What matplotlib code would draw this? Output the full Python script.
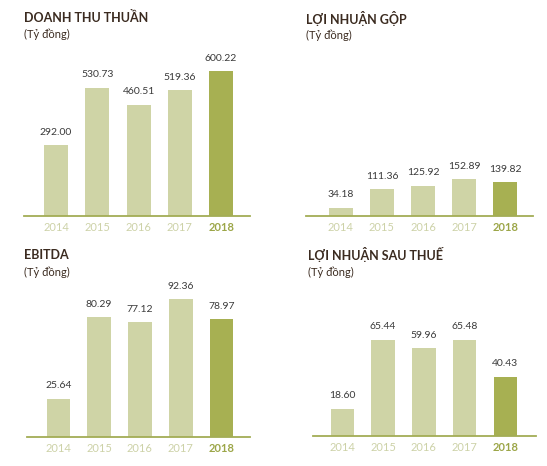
import matplotlib.pyplot as plt

years = ["2014", "2015", "2016", "2017", "2018"]
doanh_thu = [292.00, 530.73, 460.51, 519.36, 600.22]
loi_nhuan_gop = [34.18, 111.36, 125.92, 152.89, 139.82]
ebitda = [25.64, 80.29, 77.12, 92.36, 78.97]
loi_nhuan_sau_thue = [18.60, 65.44, 59.96, 65.48, 40.43]

titles = ["DOANH THU THUẦN", "LỢI NHUẬN GỘP", "EBITDA", "LỢI NHUẬN SAU THUẾ"]
subtitle = "(Tỷ đồng)"

W, H = 547, 466
LIGHT = "#CFD4A6"
DARK = "#A7B052"
AXIS = "#A3AD55"
YEAR_LIGHT = "#CDD2A8"
YEAR_DARK = "#9CA648"
TITLE_C = "#3B2B20"
VAL_C = "#3A3A3A"

plt.rcParams['font.family'] = ['Lato', 'DejaVu Sans']

fig = plt.figure(figsize=(W / 100, H / 100), dpi=100)
fig.patch.set_facecolor("white")

# (data, title, title_x, title_y, axis_left, axis_right, baseline, xlim, px_per_unit)
panels = [
    (doanh_thu, titles[0], 24, 17, 24, 250, 216, (-0.776, 4.70), 0.2417),
    (loi_nhuan_gop, titles[1], 306, 18, 306, 533, 216, (-0.85, 4.68), 0.2417),
    (ebitda, titles[2], 24, 255, 27, 250, 437, (-0.77, 4.70), 1.49),
    (loi_nhuan_sau_thue, titles[3], 308, 255, 313, 536, 436, (-0.72, 4.75), 1.47),
]

for vals, title, tx, ty, left, right, base, xlim, scale in panels:
    top = base - 160
    ax = fig.add_axes([left / W, (H - base) / H, (right - left) / W, (base - top) / H])
    ax.set_xlim(*xlim)
    ax.set_ylim(0, (base - top) / scale)
    colors = [LIGHT] * 4 + [DARK]
    x = range(len(years))
    ax.bar(x, vals, width=0.58, color=colors, zorder=2)
    for xi, v in zip(x, vals):
        ax.annotate(f"{v:.2f}", (xi, v), xytext=(0, 6), textcoords="offset points",
                    ha="center", va="bottom", fontsize=7.5, color=VAL_C)
    for s in ["top", "right", "left"]:
        ax.spines[s].set_visible(False)
    ax.spines["bottom"].set_color(AXIS)
    ax.spines["bottom"].set_linewidth(1.3)
    ax.set_yticks([])
    ax.set_xticks(list(x))
    ax.set_xticklabels(years, fontsize=8)
    ax.tick_params(axis="x", length=0, pad=4)
    for i, lab in enumerate(ax.get_xticklabels()):
        if i == 4:
            lab.set_color(YEAR_DARK)
            lab.set_fontweight("bold")
        else:
            lab.set_color(YEAR_LIGHT)
    ax.patch.set_alpha(0)

    fig.text(tx / W, 1 - ty / H, title, fontsize=9, fontweight="bold",
             color=TITLE_C, ha="left", va="center")
    fig.text(tx / W, 1 - (ty + 17) / H, subtitle, fontsize=8,
             color=TITLE_C, ha="left", va="center")

fig.savefig("out.png", dpi=100)
